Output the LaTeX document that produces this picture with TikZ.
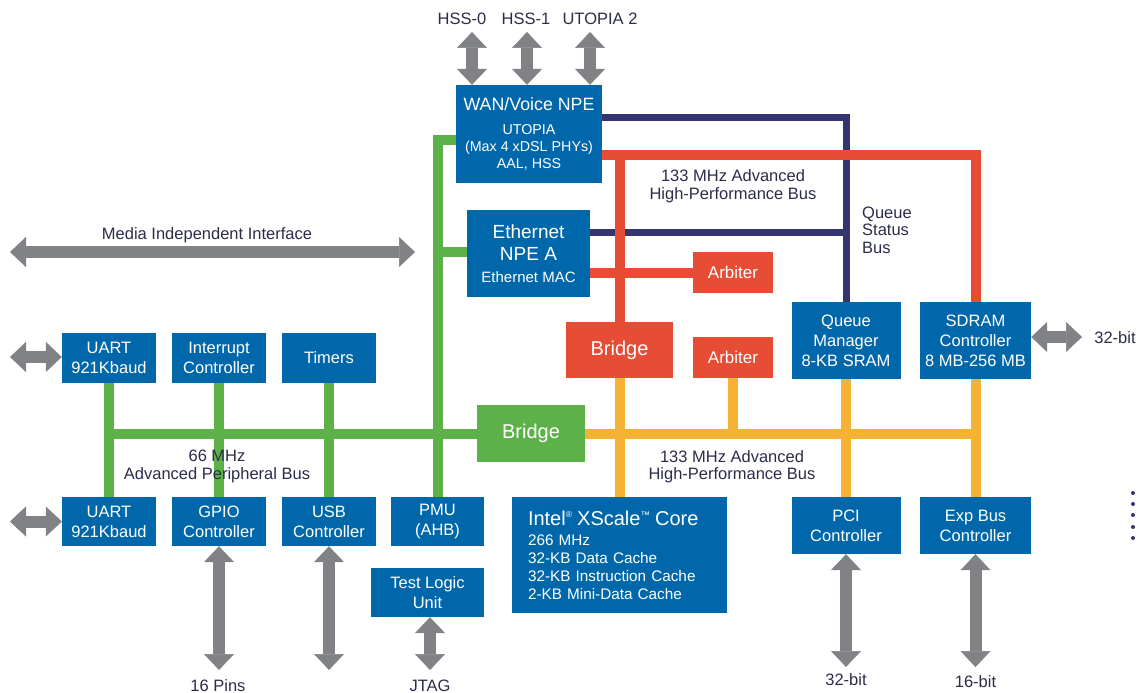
\documentclass[tikz,border=0pt]{standalone}
\usepackage{fontspec}
\setmainfont{Liberation Sans}
\usetikzlibrary{arrows.meta,backgrounds}

\definecolor{ublue}{RGB}{0,104,170}
\definecolor{ured}{RGB}{231,76,52}
\definecolor{ugreen}{RGB}{92,178,72}
\definecolor{uorange}{RGB}{245,178,52}
\definecolor{unavy}{RGB}{52,52,110}
\definecolor{ugray}{RGB}{128,130,134}
\definecolor{utext}{RGB}{44,45,74}

\newcommand\lblfont{\fontsize{16.5}{17.5}\selectfont}
\newcommand\boxfont{\fontsize{16.5}{20}\selectfont}
\newcommand\titlefont{\fontsize{20}{22}\selectfont}

\tikzset{
  blockbox/.style={fill=ublue, text=white, inner sep=0pt, align=center, font=\boxfont},
  redbox/.style={blockbox, fill=ured},
  greenbox/.style={blockbox, fill=ugreen},
  lbl/.style={text=utext, inner sep=0pt, font=\lblfont},
  lblmulti/.style={lbl, align=center},
  bus/.style={line width=10pt, line join=miter},
  qbus/.style={bus, line width=7pt, draw=unavy},
  ahbred/.style={bus, draw=ured},
  ahbor/.style={bus, draw=uorange},
  apb/.style={bus, draw=ugreen},
  biarrow/.style={draw=ugray, line width=12pt,
    arrows={Triangle[width=30pt,length=16pt,line width=0.5pt]-Triangle[width=30pt,length=16pt,line width=0.5pt]}}
}

\begin{document}
\begin{tikzpicture}[x=1pt,y=-1pt]
\useasboundingbox (0,0) rectangle (1148,693);

% ---------- blocks ----------
\node[blockbox, minimum width=146pt, minimum height=98pt, font=\fontsize{14.3}{17}\selectfont] (wan) at (529,134)
  {{\fontsize{17.8}{20}\selectfont WAN/Voice NPE}\\[7pt]UTOPIA\\(Max 4 xDSL PHYs)\\AAL, HSS};
\node[blockbox, minimum width=123pt, minimum height=87pt, font=\fontsize{19}{22}\selectfont] (eth) at (528.5,253.5)
  {Ethernet\\NPE A\\{\fontsize{15}{16}\selectfont Ethernet MAC}};
\node[redbox, minimum width=80pt, minimum height=41pt, font=\fontsize{17}{20}\selectfont] (arbA) at (733,272.5) {Arbiter};
\node[redbox, minimum width=107pt, minimum height=56pt, font=\fontsize{20}{22}\selectfont] (brR) at (619.5,350) {Bridge};
\node[redbox, minimum width=80pt, minimum height=41pt, font=\fontsize{17}{20}\selectfont] (arbB) at (733,357.5) {Arbiter};
\node[blockbox, minimum width=109pt, minimum height=77pt] (qm) at (846,340.5) {Queue\\Manager\\8-KB SRAM};
\node[blockbox, minimum width=111pt, minimum height=77pt] (sdram) at (975.5,340.5) {SDRAM\\Controller\\8 MB-256 MB};
\node[greenbox, minimum width=108pt, minimum height=57pt, font=\fontsize{20}{22}\selectfont] (brG) at (531,433.5) {Bridge};

\node[blockbox, minimum width=94pt, minimum height=50pt] (uartA) at (109,358) {UART\\921Kbaud};
\node[blockbox, minimum width=94pt, minimum height=50pt] (intc) at (219,358) {Interrupt\\Controller};
\node[blockbox, minimum width=94pt, minimum height=50pt] (timers) at (329,358) {Timers};

\node[blockbox, minimum width=94pt, minimum height=49pt] (uartB) at (109,521.5) {UART\\921Kbaud};
\node[blockbox, minimum width=94pt, minimum height=49pt] (gpio) at (219,521.5) {GPIO\\Controller};
\node[blockbox, minimum width=94pt, minimum height=49pt] (usb) at (329,521.5) {USB\\Controller};
\node[blockbox, minimum width=93pt, minimum height=49pt] (pmu) at (437.5,521.5) {PMU\\(AHB)};
\node[blockbox, minimum width=113pt, minimum height=49pt] (tlu) at (427.5,592.5) {Test Logic\\Unit};

\node[blockbox, align=left, text width=183pt, inner xsep=16pt, minimum height=116pt,
      font=\fontsize{15.3}{18}\selectfont] (xscale) at (619.5,555)
  {{\titlefont Intel\raisebox{7.5pt}{\fontsize{8.5}{8.5}\selectfont ®} XScale\raisebox{6.5pt}{\fontsize{9.5}{9.5}\selectfont ™} Core}\\[2pt]
   266 MHz\\32-KB Data Cache\\32-KB Instruction Cache\\2-KB Mini-Data Cache};

\node[blockbox, minimum width=109pt, minimum height=57pt] (pci) at (846,525.5) {PCI\\Controller};
\node[blockbox, minimum width=111pt, minimum height=57pt] (exp) at (975.5,525.5) {Exp Bus\\Controller};

% ---------- bus corner points ----------
\coordinate (gTop) at (437.5,140);
\coordinate (gEth) at (437.5,252);
\coordinate (gBusL) at (109,433.5);
\coordinate (nTop) at (846,117);
\coordinate (nEth) at (846,232);
\coordinate (rTopR) at (975.5,155);
\coordinate (oBusR) at (975.5,433.5);

% ---------- buses, behind the blocks ----------
\begin{scope}[on background layer]
  \fill[white] (0,0) rectangle (1148,693);
  % queue status bus
  \draw[qbus] (wan.east |- nTop) -- (nTop) -- (qm.north);
  \draw[qbus] (eth.east |- nEth) -- (nEth);
  % 133 MHz AHB (upper)
  \draw[ahbred] (wan.east |- rTopR) -- (rTopR) -- (sdram.north);
  \draw[ahbred] (brR.north |- rTopR) -- (brR.north);
  \draw[ahbred] (eth.east |- arbA.west) -- (arbA.west);
  % 66 MHz APB
  \draw[apb] (pmu.north) -- (gTop) -- (wan.west |- gTop);
  \draw[apb] (gEth) -- (eth.west |- gEth);
  \draw[apb] (gBusL) -- (brG.west);
  \draw[apb] (uartA.south) -- (uartB.north);
  \draw[apb] (intc.south) -- (gpio.north);
  \draw[apb] (timers.south) -- (usb.north);
  % 133 MHz AHB (lower)
  \draw[ahbor] (brG.east) -- (oBusR);
  \draw[ahbor] (brR.south) -- (xscale.north);
  \draw[ahbor] (arbB.south) -- (arbB.south |- oBusR);
  \draw[ahbor] (qm.south) -- (pci.north);
  \draw[ahbor] (sdram.south) -- (exp.north);
\end{scope}

% ---------- external interfaces ----------
\coordinate (hssA) at (472,32);
\coordinate (hssB) at (527,32);
\coordinate (utp) at (590,32);
\draw[biarrow] (hssA) -- (hssA |- wan.north);
\draw[biarrow] (hssB) -- (hssB |- wan.north);
\draw[biarrow] (utp) -- (utp |- wan.north);

\coordinate (miiL) at (10,252);
\coordinate (miiR) at (415,252);
\draw[biarrow] (miiL) -- (miiR);

\coordinate (uartAx) at (10,357);
\coordinate (uartBx) at (10,521.5);
\draw[biarrow] (uartAx) -- (uartA.west |- uartAx);
\draw[biarrow] (uartBx) -- (uartB.west);

\coordinate (gpioX) at (219,670);
\coordinate (usbX) at (329,670);
\coordinate (jtagX) at (430,670);
\draw[biarrow] (gpio.south) -- (gpioX);
\draw[biarrow] (usb.south) -- (usbX);
\draw[biarrow] (jtagX |- tlu.south) -- (jtagX);

\coordinate (sdramX) at (1082,337);
\draw[biarrow] (sdram.east |- sdramX) -- (sdramX);
\coordinate (pciX) at (846,667);
\coordinate (expX) at (975.5,667);
\draw[biarrow] (pci.south) -- (pciX);
\draw[biarrow] (exp.south) -- (expX);

% ---------- labels ----------
\node[lbl, anchor=base] (lHssA) at (462,25) {HSS-0};
\node[lbl, anchor=base] (lHssB) at (526,25) {HSS-1};
\node[lbl, anchor=base] (lUtp) at (600,25) {UTOPIA 2};
\node[lbl, anchor=base] (lMii) at (207,239) {Media Independent Interface};
\node[lbl, anchor=base] (lPins) at (218,691) {16 Pins};
\node[lbl, anchor=base] (lJtag) at (430,691) {JTAG};
\node[lbl, anchor=base] (lSdram) at (1115,343) {32-bit};
\node[lbl, anchor=base] (lPci) at (846,685) {32-bit};
\node[lbl, anchor=base] (lExp) at (975.5,687) {16-bit};

\node[lblmulti] (lApb) at (217,466.5) {66 MHz\\Advanced Peripheral Bus};
\node[lblmulti] (lAhbTop) at (733,186) {133 MHz Advanced\\High-Performance Bus};
\node[lblmulti] (lAhbLow) at (732,466.5) {133 MHz Advanced\\High-Performance Bus};
\node[lbl, align=left, anchor=west, font=\fontsize{16.5}{17.5}\selectfont] (lQsb) at (862,230) {Queue\\Status\\Bus};

% continuation dots
\foreach \yy in {493,504,515,527,538}
  \fill[unavy] (1133,\yy) circle (2pt);
\end{tikzpicture}
\end{document}
